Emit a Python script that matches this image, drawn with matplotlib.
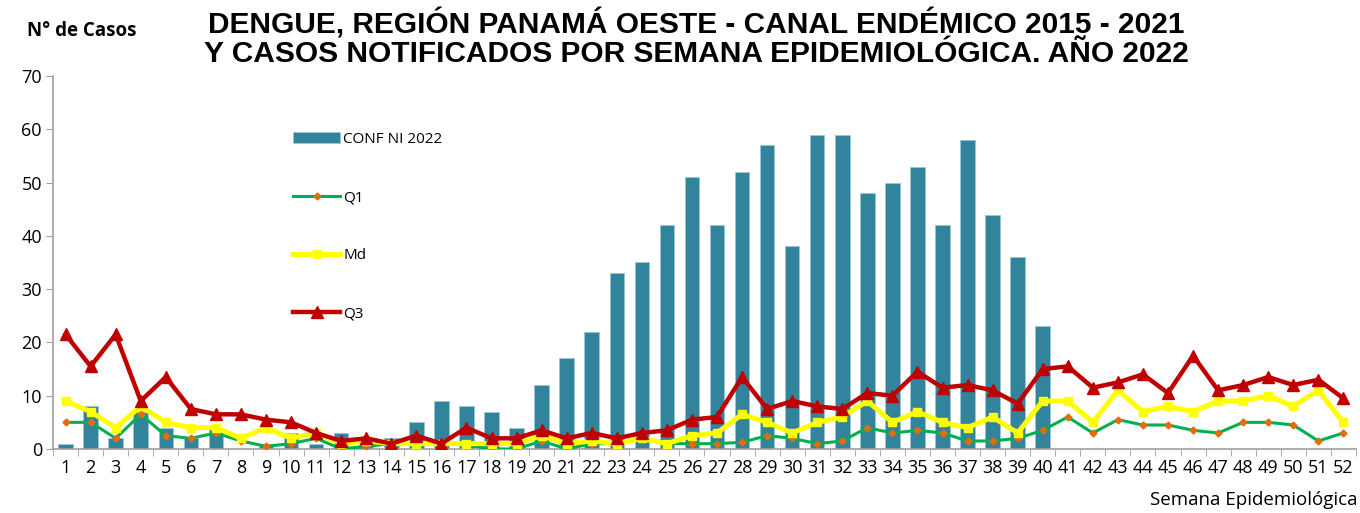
import matplotlib.pyplot as plt
import numpy as np

weeks = list(range(1, 53))

# casos confirmados 2022 (semanas 1-40)
casos_2022 = [1, 8, 2, 7, 4, 2, 4, 0, 1, 3, 1, 3, 1, 2, 5, 9, 8, 7, 4, 12,
              17, 22, 33, 35, 42, 51, 42, 52, 57, 38, 59, 59, 48, 50, 53, 42, 58, 44, 36, 23]

q1 = [5, 5, 2, 6.5, 2.5, 2, 3, 1.5, 0.5, 1, 2, 0, 0.5, 1, 0.75, 1, 0.75, 0, 0, 1.5,
      0, 1, 1, 2, 1, 1, 1, 1.25, 2.5, 2, 1, 1.5, 4, 3, 3.5, 3, 1.5, 1.5, 2, 3.5,
      6, 3, 5.5, 4.5, 4.5, 3.5, 3, 5, 5, 4.5, 1.5, 3]

md = [9, 7, 4, 8, 5, 4, 4, 2, 4, 2, 3, 1, 1.5, 1, 1, 1, 1, 1, 1, 2.5,
      1, 1.5, 1, 2, 1, 2.5, 3, 6.5, 5, 3, 5, 6, 9, 5, 7, 5, 4, 6, 3, 9,
      9, 5, 11, 7, 8, 7, 9, 9, 10, 8, 11, 5]

q3 = [21.5, 15.5, 21.5, 9, 13.5, 7.5, 6.5, 6.5, 5.5, 5, 3, 1.5, 2, 1, 2.5, 1, 4, 2, 2, 3.5,
      2, 3, 2, 3, 3.5, 5.5, 6, 13.5, 7.5, 9, 8, 7.5, 10.5, 10, 14.5, 11.5, 12, 11, 8.5, 15,
      15.5, 11.5, 12.5, 14, 10.5, 17.5, 11, 12, 13.5, 12, 13, 9.5]

fig = plt.figure(figsize=(13.6, 5.13), dpi=100)
ax = fig.add_axes([0.039, 0.1248, 0.958, 0.7271])

b = ax.bar(weeks[:len(casos_2022)], casos_2022, width=0.58, color='#31849B',
           edgecolor='#9CC6D2', linewidth=0.6, label='CONF NI 2022', zorder=2)
l1, = ax.plot(weeks, q1, color='#00B050', lw=2.2, marker='D', ms=3.5, mfc='#E46C0A',
              mec='#E46C0A', label='Q1', zorder=3)
l2, = ax.plot(weeks, md, color='#FFFF00', lw=3.6, marker='s', ms=6, label='Md', zorder=4)
l3, = ax.plot(weeks, q3, color='#C00000', lw=3.2, marker='^', ms=9, label='Q3', zorder=5)

ax.set_xlim(0.5, 52.5)
ax.set_ylim(0, 70)
ax.set_yticks(range(0, 71, 10))
ax.set_xticks(weeks)
ax.set_xticks(np.arange(0.5, 53, 1), minor=True)
ax.tick_params(axis='x', which='major', length=0, pad=7, labelsize=13)
ax.tick_params(axis='x', which='minor', length=5, color='#A0A0A0')
ax.tick_params(axis='y', length=5, color='#A0A0A0', labelsize=13, pad=3)
for lab in ax.get_xticklabels() + ax.get_yticklabels():
    lab.set_family('Open Sans')

for s in ['top', 'right']:
    ax.spines[s].set_visible(False)
for s in ['left', 'bottom']:
    ax.spines[s].set_color('#A0A0A0')
    ax.spines[s].set_linewidth(1.2)

ax.legend([b, l1, l2, l3], ['CONF NI 2022', 'Q1', 'Md', 'Q3'],
          loc='upper left', bbox_to_anchor=(0.2154, 0.7427),
          bbox_transform=fig.transFigure, frameon=False, borderpad=0,
          borderaxespad=0, labelspacing=2.83, handlelength=3.1,
          handletextpad=0.2, prop={'family': 'Open Sans', 'size': 11})

fig.text(0.512, 0.953, 'DENGUE, REGIÓN PANAMÁ OESTE - CANAL ENDÉMICO 2015 - 2021',
         ha='center', va='center', fontsize=21.5, fontweight='bold', family='Liberation Sans')
fig.text(0.512, 0.894, 'Y CASOS NOTIFICADOS POR SEMANA EPIDEMIOLÓGICA. AÑO 2022',
         ha='center', va='center', fontsize=21.5, fontweight='bold', family='Liberation Sans')
fig.text(0.02, 0.94, 'N° de Casos', ha='left', va='center', fontsize=13.5,
         fontweight='bold', family='Open Sans')
fig.text(0.998, 0.026, 'Semana Epidemiológica', ha='right', va='center',
         fontsize=13.5, family='Open Sans')

plt.savefig('out.png', dpi=100)
